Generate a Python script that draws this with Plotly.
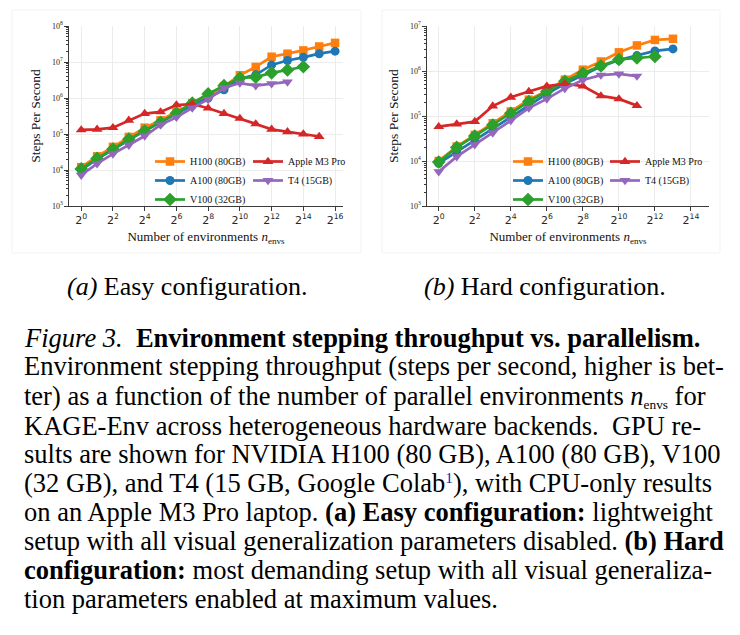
import math
import plotly.graph_objects as go

# ---------------- data ----------------
n_envs_easy = [1, 2, 4, 8, 16, 32, 64, 128, 256, 512, 1024, 2048, 4096, 8192, 16384, 32768, 65536]
n_envs_hard = [1, 2, 4, 8, 16, 32, 64, 128, 256, 512, 1024, 2048, 4096, 8192]

easy_h100 = [1.2e4, 2.4e4, 4.4e4, 8.3e4, 1.5e5, 2.4e5, 4.1e5, 7.2e5, 1.2e6, 2.1e6, 4.3e6, 7.3e6, 1.4e7, 1.7e7, 2.1e7, 2.7e7, 3.4e7]
easy_a100 = [1.0e4, 2.0e4, 3.7e4, 6.8e4, 1.25e5, 2.1e5, 3.7e5, 6.3e5, 1.0e6, 1.7e6, 3.4e6, 4.4e6, 8.3e6, 1.1e7, 1.35e7, 1.7e7, 2.0e7]
easy_v100 = [1.07e4, 2.1e4, 3.8e4, 7.2e4, 1.2e5, 2.1e5, 3.8e5, 7.2e5, 1.3e6, 2.2e6, 3.6e6, 3.8e6, 5.0e6, 6.0e6, 7.4e6]
easy_m3 = [1.3e5, 1.35e5, 1.5e5, 2.4e5, 3.7e5, 4.1e5, 6.4e5, 6.8e5, 5.2e5, 3.7e5, 2.7e5, 1.9e5, 1.35e5, 1.15e5, 1.0e5, 8.5e4]
easy_t4 = [7.2e3, 1.5e4, 2.8e4, 4.9e4, 8.8e4, 1.8e5, 2.9e5, 5.3e5, 9.1e5, 1.9e6, 2.6e6, 2.2e6, 2.5e6, 2.8e6]

hard_h100 = [1.0e4, 2.1e4, 3.8e4, 6.9e4, 1.26e5, 2.3e5, 3.6e5, 6.4e5, 1.07e6, 1.63e6, 2.6e6, 3.7e6, 4.9e6, 5.2e6]
hard_a100 = [8.9e3, 1.6e4, 3.0e4, 5.4e4, 9.6e4, 1.7e5, 3.1e5, 5.2e5, 8.1e5, 1.25e6, 1.75e6, 2.2e6, 2.8e6, 3.1e6]
hard_v100 = [9.5e3, 2.0e4, 3.6e4, 6.3e4, 1.15e5, 2.1e5, 3.5e5, 5.9e5, 8.9e5, 1.3e6, 1.8e6, 1.95e6, 2.1e6]
hard_m3 = [5.8e4, 6.6e4, 7.5e4, 1.66e5, 2.6e5, 3.5e5, 4.6e5, 5.2e5, 4.6e5, 2.8e5, 2.4e5, 1.7e5]
hard_t4 = [5.8e3, 1.25e4, 2.3e4, 4.2e4, 7.9e4, 1.5e5, 2.4e5, 4.1e5, 6.3e5, 8.1e5, 8.6e5, 7.7e5]

series_names = ["H100 (80GB)", "A100 (80GB)", "V100 (32GB)", "Apple M3 Pro", "T4 (15GB)"]
x_tick_vals_easy = [1, 4, 16, 64, 256, 1024, 4096, 16384, 65536]
x_tick_text_easy = ["2<sup>0</sup>", "2<sup>2</sup>", "2<sup>4</sup>", "2<sup>6</sup>", "2<sup>8</sup>",
                    "2<sup>10</sup>", "2<sup>12</sup>", "2<sup>14</sup>", "2<sup>16</sup>"]
x_tick_vals_hard = [1, 4, 16, 64, 256, 1024, 4096, 16384]
x_tick_text_hard = ["2<sup>0</sup>", "2<sup>2</sup>", "2<sup>4</sup>", "2<sup>6</sup>", "2<sup>8</sup>",
                    "2<sup>10</sup>", "2<sup>12</sup>", "2<sup>14</sup>"]
y_tick_vals_easy = [1e3, 1e4, 1e5, 1e6, 1e7, 1e8]
y_tick_text_easy = ["10<sup>3</sup>", "10<sup>4</sup>", "10<sup>5</sup>", "10<sup>6</sup>", "10<sup>7</sup>", "10<sup>8</sup>"]
y_tick_vals_hard = [1e3, 1e4, 1e5, 1e6, 1e7]
y_tick_text_hard = ["10<sup>3</sup>", "10<sup>4</sup>", "10<sup>5</sup>", "10<sup>6</sup>", "10<sup>7</sup>"]

# ---------------- styles ----------------
W, H = 740, 635
colors = ["#ff7f0e", "#1f77b4", "#2ca02c", "#d62728", "#9467bd"]
symbols = ["square", "circle", "diamond", "triangle-up", "triangle-down"]
msizes = [8.5, 9, 10.5, 9.5, 9.5]
SERIF = "Liberation Serif"
SANS = "DejaVu Sans"
INK = "#262626"

fig = go.Figure()

panels = [
    (n_envs_easy, [easy_h100, easy_a100, easy_v100, easy_m3, easy_t4], "x", "y", ["legend", "legend2"]),
    (n_envs_hard, [hard_h100, hard_a100, hard_v100, hard_m3, hard_t4], "x2", "y2", ["legend3", "legend4"]),
]
for xs, ys_list, xa, ya, lgs in panels:
    for i, ys in enumerate(ys_list):
        fig.add_trace(go.Scatter(
            x=xs[:len(ys)], y=ys, xaxis=xa, yaxis=ya, legend=lgs[0] if i < 3 else lgs[1],
            name=series_names[i], mode="lines+markers",
            line=dict(color=colors[i], width=2.7),
            marker=dict(symbol=symbols[i], size=msizes[i], color=colors[i], line=dict(width=0)),
        ))

def px_x(p):
    return p / W

def px_y(p):
    return 1 - p / H

def l2(v):
    return math.log10(2 ** v)

minor_vals = [m * 10 ** k for k in range(3, 8) for m in range(2, 10)]

common_x = dict(type="log", showline=True, linecolor="#3a3a3a", linewidth=1.3, mirror=False,
                ticks="outside", ticklen=3.5, tickwidth=1, tickcolor="#3a3a3a", automargin=False,
                showgrid=True, gridcolor="#ececec", gridwidth=0.8, zeroline=False,
                tickfont=dict(family=SANS, size=11, color=INK), tickmode="array")
common_y = dict(type="log", showline=True, linecolor="#3a3a3a", linewidth=1.3, mirror=False,
                ticks="outside", ticklen=3.5, tickwidth=1, tickcolor="#3a3a3a", automargin=False,
                showgrid=True, gridcolor="#ececec", gridwidth=0.8, zeroline=False,
                tickfont=dict(family=SERIF, size=8, color=INK), tickmode="array",
                minor=dict(tickmode="array", tickvals=minor_vals, ticks="outside", ticklen=2,
                           tickcolor="#3a3a3a", tickwidth=0.8, showgrid=False))

xtitle = dict(text="Number of environments <i>n</i><sub>envs</sub>",
              font=dict(family=SERIF, size=13, color="#111"), standoff=6)
ytitle = dict(text="Steps Per Second", font=dict(family=SERIF, size=13.5, color="#111"), standoff=8)

legend_style = dict(orientation="v", xanchor="left", yanchor="top", bgcolor="rgba(0,0,0,0)",
                    font=dict(family=SERIF, size=10, color="#111"), traceorder="normal",
                    tracegroupgap=0, borderwidth=0)

fig.update_layout(
    width=W, height=H, margin=dict(l=0, r=0, t=0, b=0, autoexpand=False),
    paper_bgcolor="white", plot_bgcolor="white", showlegend=True,
    xaxis=dict(common_x, domain=[px_x(69), px_x(343)], range=[l2(-0.77), l2(16.5)],
               tickvals=x_tick_vals_easy, ticktext=x_tick_text_easy, anchor="y", title=xtitle),
    yaxis=dict(common_y, domain=[px_y(206), px_y(26)], range=[3, 8],
               tickvals=y_tick_vals_easy, ticktext=y_tick_text_easy, anchor="x", title=ytitle),
    xaxis2=dict(common_x, domain=[px_x(427), px_x(709)], range=[l2(-0.65), l2(15.0)],
                tickvals=x_tick_vals_hard, ticktext=x_tick_text_hard, anchor="y2", title=xtitle),
    yaxis2=dict(common_y, domain=[px_y(206), px_y(26)], range=[3, 7],
                tickvals=y_tick_vals_hard, ticktext=y_tick_text_hard, anchor="x2", title=ytitle),
    legend=dict(legend_style, x=px_x(150), y=px_y(147)),
    legend2=dict(legend_style, x=px_x(248), y=px_y(147)),
    legend3=dict(legend_style, x=px_x(508), y=px_y(147)),
    legend4=dict(legend_style, x=px_x(605), y=px_y(147)),
)

# faint frames of the sub-figures
for x0, x1 in [(12, 361), (382, 720)]:
    fig.add_shape(type="rect", xref="paper", yref="paper", x0=px_x(x0), x1=px_x(x1),
                  y0=px_y(253), y1=px_y(10), line=dict(color="#f3f3f3", width=1), layer="below")

# sub-captions
fig.add_annotation(x=px_x(187), y=px_y(286), xref="paper", yref="paper", showarrow=False,
                   xanchor="center", yanchor="middle",
                   text="<i>(a)</i> Easy configuration.", font=dict(family=SERIF, size=26, color="#000"))
fig.add_annotation(x=px_x(545), y=px_y(286), xref="paper", yref="paper", showarrow=False,
                   xanchor="center", yanchor="middle",
                   text="<i>(b)</i> Hard configuration.", font=dict(family=SERIF, size=26, color="#000"))

caption_lines = [
    "<i>Figure 3.</i>  <b>Environment stepping throughput vs. parallelism.</b>",
    "Environment stepping throughput (steps per second, higher is bet-",
    "ter) as a function of the number of parallel environments <i>n</i><span style='font-size:19px'><sub>envs</sub></span> for",
    "KAGE-Env across heterogeneous hardware backends.  GPU re-",
    "sults are shown for NVIDIA H100 (80 GB), A100 (80 GB), V100",
    "(32 GB), and T4 (15 GB, Google Colab<span style='font-size:22px;color:#2323b0'><sup>1</sup></span>), with CPU-only results",
    "on an Apple M3 Pro laptop. <b>(a) Easy configuration:</b> lightweight",
    "setup with all visual generalization parameters disabled. <b>(b) Hard</b>",
    "<b>configuration:</b> most demanding setup with all visual generaliza-",
    "tion parameters enabled at maximum values.",
]
line_shift = [0, -1, 0, 1, 0, 0, 0, 0, 0, 0]
for k, line in enumerate(caption_lines):
    fig.add_annotation(x=px_x(22), y=px_y(338 + 29 * k + line_shift[k]), xref="paper", yref="paper",
                       xanchor="left", yanchor="middle", showarrow=False, text=line,
                       font=dict(family=SERIF, size=26.5, color="#000"))

fig.write_html("out.html")
